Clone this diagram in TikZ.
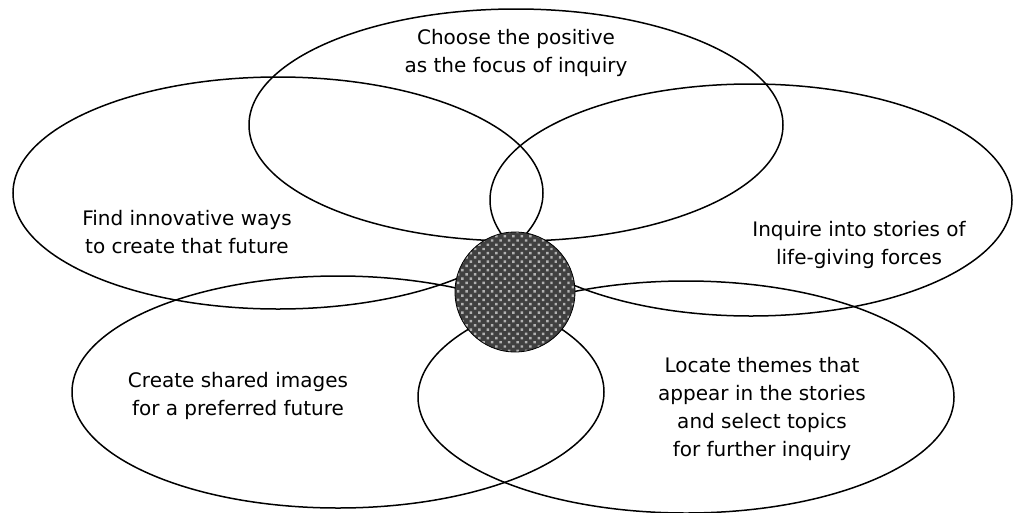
\documentclass[tikz,border=0pt]{standalone}
\usepackage{fontspec}
\setmainfont{DejaVu Sans}
\usetikzlibrary{patterns.meta}
\begin{document}
\begin{tikzpicture}[x=1pt, y=-1pt,
	petal/.style={line width=1.5pt},
	petaltext/.style={align=center, font=\fontsize{20}{28}\selectfont, inner sep=0pt}]

	\useasboundingbox (0,0) rectangle (1013,512);

	\foreach \cx/\cy/\rx in {516/125/267, 278/193/265, 751/200/261, 338/392/266, 686/397/268}
		\draw[petal] (\cx,\cy) ellipse ({\rx} and 116);

	\fill[black!75] (515,292) circle (60);
	\fill[pattern={Dots[distance=6pt, angle=45, radius=1.7pt]}, pattern color=gray!60] (515,292) circle (60);
	\draw[line width=0.8pt] (515,292) circle (60);

	\node[petaltext] (choose) at (516,53) {Choose the positive\\as the focus of inquiry};
	\node[petaltext] (find) at (187,232) {Find innovative ways\\to create that future};
	\node[petaltext] (inquire) at (859,245) {Inquire into stories of\\life-giving forces};
	\node[petaltext] (create) at (238,396) {Create shared images\\for a preferred future};
	\node[petaltext] (locate) at (762,409) {Locate themes that\\appear in the stories\\and select topics\\for further inquiry};

\end{tikzpicture}
\end{document}
